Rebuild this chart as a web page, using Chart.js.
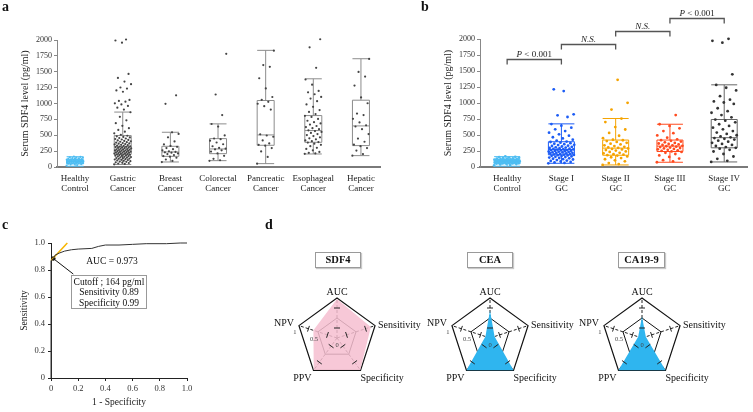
<!DOCTYPE html>
<html>
<head>
<meta charset="utf-8">
<script src="https://cdn.jsdelivr.net/npm/chart.js"></script>
<style>
  body { margin: 0; background: #fff; }
  #page { position: relative; width: 753px; height: 412px; overflow: hidden; font-family: 'Liberation Serif', serif; color: #111; }
  canvas, .lbl, .tbox, .note { position: absolute; }
  .lbl { font-weight: bold; font-size: 14px; line-height: 14px; }
  .tbox { border: 1px solid #9a9a9a; box-shadow: 1px 1px 1px #c8c8c8; font-weight: bold; font-size: 10.5px; line-height: 14px; height: 14px; text-align: center; }
  .note { font-size: 9.5px; text-align: center; }
  #cutoff { left: 71px; top: 275px; width: 74px; height: 31px; border: 1px solid #999; line-height: 10.3px; padding-top: 1px; }
</style>
</head>
<body>
<div id="page">
  <canvas id="chartA" width="385" height="200" style="left:0;top:0;width:385px;height:200px"></canvas>
  <canvas id="chartB" width="373" height="200" style="left:380px;top:0;width:373px;height:200px"></canvas>
  <canvas id="chartC" width="300" height="212" style="left:0;top:200px;width:300px;height:212px"></canvas>
  <canvas id="radar1" width="170" height="120" style="left:252px;top:278px;width:170px;height:120px"></canvas>
  <canvas id="radar2" width="170" height="120" style="left:405px;top:278px;width:170px;height:120px"></canvas>
  <canvas id="radar3" width="170" height="120" style="left:557px;top:278px;width:170px;height:120px"></canvas>

  <div class="lbl" style="left:2px;top:0px">a</div>
  <div class="lbl" style="left:421px;top:0px">b</div>
  <div class="lbl" style="left:2px;top:218px">c</div>
  <div class="lbl" style="left:265px;top:218px">d</div>

  <div class="note" style="left:80px;top:256px;width:64px">AUC = 0.973</div>
  <div class="note" id="cutoff">Cutoff ; 164 pg/ml<br>Sensitivity 0.89<br>Specificity 0.99</div>

  <div class="tbox" style="left:315px;top:252px;width:44px">SDF4</div>
  <div class="tbox" style="left:467px;top:252px;width:44px">CEA</div>
  <div class="tbox" style="left:618px;top:252px;width:45px">CA19-9</div>
</div>

<script>
// ---- panel a : serum SDF4 by cancer type ----
const catA = [['Healthy', 'Control'], ['Gastric', 'Cancer'], ['Breast', 'Cancer'], ['Colorectal', 'Cancer'],
              ['Pancreatic', 'Cancer'], ['Esophageal', 'Cancer'], ['Hepatic', 'Cancer']];

const healthyValues = [24, 31, 40, 46, 49, 53, 57, 58, 61, 64, 66, 69, 70, 73, 75, 77, 79, 80, 83, 85, 86, 89, 90, 92,
  94, 95, 98, 99, 102, 104, 106, 107, 111, 113, 116, 117, 122, 125, 128, 131, 135, 139, 144, 148, 153, 159, 165, 71, 88, 96, 109, 120];
const gastricValues = [42, 48, 55, 63, 68, 74, 81, 86, 92, 97, 104, 109, 113, 118, 124, 128, 133, 139, 142, 147, 152, 156,
  161, 166, 171, 174, 179, 183, 188, 192, 196, 201, 204, 208, 212, 216, 219, 223, 227, 231, 234, 238, 242, 246, 249, 253,
  257, 261, 264, 268, 272, 276, 279, 283, 288, 292, 296, 301, 305, 309, 313, 318, 322, 327, 333, 338, 344, 349, 355, 361,
  367, 372, 378, 385, 391, 398, 404, 411, 418, 426, 433, 441, 449, 457, 466, 474, 483, 492, 508, 531, 556, 584, 612, 648,
  690, 735, 790, 862, 905, 935, 962, 985, 1002, 1028, 1041, 1056, 1185, 1206, 1235, 1252, 1305, 1346, 1402, 1465, 1958, 1992, 2008];
const breastValues = [78, 96, 118, 146, 163, 172, 188, 204, 213, 226, 231, 238, 247, 262, 281, 298, 317, 332, 356, 402, 468, 521, 546, 995, 1128];
const colorectalValues = [98, 106, 128, 176, 214, 243, 262, 279, 288, 301, 327, 358, 386, 414, 438, 449, 498, 636, 677, 818, 1142, 1782];
const pancreaticValues = [53, 158, 246, 298, 336, 349, 372, 418, 476, 496, 515, 905, 958, 996, 1026, 1058, 1102, 1238, 1398, 1578, 1605, 1832];
const esophagealValues = [207, 214, 223, 238, 262, 284, 302, 328, 349, 368, 384, 393, 407, 418, 436, 452, 468, 487, 503, 518,
  536, 552, 566, 577, 596, 612, 628, 646, 668, 687, 706, 728, 757, 788, 806, 834, 868, 897, 948, 986, 1036, 1078, 1104, 1146,
  1176, 1198, 1296, 1378, 1562, 1884, 2012];
const hepaticValues = [178, 204, 258, 298, 328, 352, 398, 447, 518, 596, 638, 657, 702, 758, 818, 842, 1004, 1096, 1282, 1424, 1498, 1702];

// [min, q1, median, q3, max]
const statsA = [[12, 50, 88, 115, 162], [40, 200, 320, 495, 865], [79, 168, 237, 326, 547], [100, 210, 284, 447, 679],
                [53, 342, 505, 1047, 1837], [205, 389, 574, 810, 1389], [179, 337, 647, 1052, 1705]];

// ---- panel b : serum SDF4 by stage ----
const catB = [['Healthy', 'Control'], ['Stage I', 'GC'], ['Stage II', 'GC'], ['Stage III', 'GC'], ['Stage IV', 'GC']];
const stage1Values = [58, 63, 71, 79, 86, 95, 101, 108, 117, 122, 129, 136, 141, 148, 155, 159, 166, 171, 175, 181, 184, 189,
  193, 197, 203, 205, 211, 213, 219, 221, 227, 229, 235, 239, 241, 247, 251, 253, 259, 263, 265, 271, 275, 277, 284, 287, 294,
  297, 304, 308, 316, 320, 328, 333, 342, 347, 357, 363, 373, 380, 391, 397, 413, 427, 447, 465, 489, 511, 537, 561, 589, 615,
  646, 671, 781, 807, 823, 1187, 1213];
const stage2Values = [32, 45, 62, 88, 104, 121, 139, 152, 166, 178, 185, 192, 201, 213, 222, 236, 244, 257, 266, 274, 283, 291,
  298, 306, 315, 327, 338, 352, 364, 377, 392, 405, 418, 426, 451, 488, 532, 586, 624, 702, 756, 898, 1002, 1362];
const stage3Values = [74, 88, 106, 132, 158, 181, 203, 221, 236, 244, 252, 261, 268, 276, 283, 291, 297, 304, 311, 318, 324,
  331, 338, 344, 352, 359, 367, 376, 386, 398, 409, 419, 432, 458, 494, 528, 562, 604, 642, 668, 812];
const stage4Values = [80, 96, 128, 164, 203, 242, 268, 286, 299, 312, 328, 345, 361, 378, 396, 412, 428, 441, 452, 463, 478,
  496, 517, 538, 561, 588, 614, 642, 668, 698, 724, 741, 776, 812, 848, 872, 918, 986, 1008, 1024, 1052, 1106, 1196, 1238,
  1282, 1448, 1942, 1972, 2002];
const statsB = [[12, 50, 88, 115, 162], [58, 190, 274, 395, 674], [32, 184, 295, 421, 758], [74, 242, 326, 421, 668], [79, 300, 458, 742, 1284]];

const bracketFrom = [0, 1, 2, 3];
const bracketTo = [1, 2, 3, 4];
const bracketLevel = [1690, 1925, 2120, 2330];
const bracketText = ['P < 0.001', 'N.S.', 'N.S.', 'P < 0.001'];

// ---- panel c : ROC ----
const rocFpr = [0, 0, 0.015, 0.03, 0.06, 0.1, 0.15, 0.2, 0.3, 0.35, 0.4, 0.5, 0.6, 0.7, 0.85, 0.95, 1.0];
const rocTpr = [0, 0.87, 0.88, 0.91, 0.925, 0.94, 0.95, 0.955, 0.96, 0.975, 0.985, 0.985, 0.99, 0.995, 0.995, 1.0, 1.0];
const tangentFpr = [0, 0.12];
const tangentTpr = [0.87, 1.0];
const leaderFpr = [0.017, 0.164];
const leaderTpr = [0.885, 0.77];

// ---- panel d : radar ----
const radarLabels = ['AUC', 'Sensitivity', 'Specificity', 'PPV', 'NPV'];
const sdf4Radar = [0.973, 0.89, 0.99, 0.99, 0.62];
const ceaRadar = [0.69, 0.12, 1.0, 1.0, 0.12];
const ca199Radar = [0.54, 0.1, 1.0, 1.0, 0.1];
const radarTicks = [1, 0.5, 0];
const spokeMarks = [0.25, 0.75];

const FONT = "'Liberation Serif', serif";

// jitter inside a category (layout only)
const jit = k => ((k * 0.618034) % 1) - 0.5;

// box plot drawn from stats through the chart scales
const boxPlugin = {
    id: 'boxes',
    beforeDatasetsDraw(chart, args, opts) {
        const { ctx, scales: { x, y } } = chart;
        const p = v => y.getPixelForValue(v);
        opts.stats.forEach((s, i) => {
            const cx = x.getPixelForValue(i), hw = opts.halfWidth;
            ctx.save();
            ctx.strokeStyle = opts.colors[i];
            ctx.lineWidth = 1;
            ctx.beginPath();
            ctx.rect(cx - hw, p(s[3]), 2 * hw, p(s[1]) - p(s[3]));
            ctx.moveTo(cx - hw, p(s[2])); ctx.lineTo(cx + hw, p(s[2]));
            ctx.moveTo(cx, p(s[3])); ctx.lineTo(cx, p(s[4]));
            ctx.moveTo(cx, p(s[1])); ctx.lineTo(cx, p(s[0]));
            ctx.moveTo(cx - hw, p(s[4])); ctx.lineTo(cx + hw, p(s[4]));
            ctx.moveTo(cx - hw, p(s[0])); ctx.lineTo(cx + hw, p(s[0]));
            ctx.stroke();
            ctx.restore();
        });
    }
};

const bracketPlugin = {
    id: 'brackets',
    afterDraw(chart) {
        const { ctx, scales: { x, y } } = chart;
        ctx.save();
        ctx.strokeStyle = '#555';
        ctx.lineWidth = 1.3;
        ctx.fillStyle = '#222';
        ctx.textBaseline = 'alphabetic';
        bracketLevel.forEach((lv, i) => {
            const x1 = x.getPixelForValue(bracketFrom[i]), x2 = x.getPixelForValue(bracketTo[i]);
            const yy = Math.round(y.getPixelForValue(lv)) + 0.5;
            ctx.beginPath();
            ctx.moveTo(x1, yy + 5); ctx.lineTo(x1, yy); ctx.lineTo(x2, yy); ctx.lineTo(x2, yy + 5);
            ctx.stroke();
            const mid = (x1 + x2) / 2, txt = bracketText[i];
            if (txt.startsWith('P')) {
                ctx.font = 'italic 9px ' + FONT;
                const w1 = ctx.measureText('P').width;
                ctx.font = '9px ' + FONT;
                const rest = txt.slice(1), w2 = ctx.measureText(rest).width;
                const x0 = mid - (w1 + w2) / 2;
                ctx.textAlign = 'left';
                ctx.font = 'italic 9px ' + FONT;
                ctx.fillText('P', x0, yy - 3);
                ctx.font = '9px ' + FONT;
                ctx.fillText(rest, x0 + w1, yy - 3);
            } else {
                ctx.font = 'italic 9px ' + FONT;
                ctx.textAlign = 'center';
                ctx.fillText(txt, mid, yy - 3);
            }
        });
        ctx.restore();
    }
};

const jitterSets = (groups, colors, spread, radius) => groups.map((vals, i) => ({
    data: vals.map((v, k) => ({ x: i + jit(k) * spread, y: v })),
    backgroundColor: colors[i],
    borderWidth: 0,
    pointRadius: radius,
    clip: false
}));

const boxChart = (id, cats, groups, stats, pointColors, boxColors, opt) => new Chart(document.getElementById(id), {
    type: 'scatter',
    data: { datasets: jitterSets(groups, pointColors, opt.spread, opt.radius) },
    options: {
        responsive: false,
        animation: false,
        events: [],
        layout: { padding: { left: opt.padLeft, right: opt.padRight, top: opt.padTop, bottom: 0 } },
        plugins: {
            legend: { display: false },
            tooltip: { enabled: false },
            boxes: { stats: stats, colors: boxColors, halfWidth: opt.halfWidth }
        },
        scales: {
            x: {
                type: 'linear', min: opt.xmin, max: opt.xmax,
                afterBuildTicks: s => { s.ticks = cats.map((c, i) => ({ value: i })); },
                ticks: { callback: v => cats[v], font: { family: FONT, size: 9, lineHeight: 1.1 }, color: '#222', padding: 7, maxRotation: 0, autoSkip: false },
                grid: { display: false, drawTicks: false },
                border: { color: '#7a7a7a', width: 2 },
                afterFit: s => { s.height = 33; }
            },
            y: {
                min: 0, max: 2000,
                ticks: { stepSize: 250, callback: v => String(v), font: { family: FONT, size: 8 }, color: '#333', padding: 2 },
                grid: { drawOnChartArea: false, tickLength: 3, color: '#888' },
                border: { color: '#888' },
                title: { display: true, text: 'Serum SDF4 level (pg/ml)', font: { family: FONT, size: 10 }, color: '#222', padding: { top: 4, bottom: 0 } },
                afterFit: s => { s.width = 42; }
            }
        }
    },
    plugins: opt.extra
});

// panel a
boxChart('chartA', catA,
    [healthyValues, gastricValues, breastValues, colorectalValues, pancreaticValues, esophagealValues, hepaticValues],
    statsA,
    ['#4dbdf2', '#444', '#444', '#444', '#444', '#444', '#444'],
    ['#4dbdf2', '#8c8c8c', '#8c8c8c', '#8c8c8c', '#8c8c8c', '#8c8c8c', '#8c8c8c'],
    { spread: 0.36, radius: 1.1, halfWidth: 8.5, xmin: -0.38, xmax: 6.4, padLeft: 15, padRight: 5, padTop: 40, extra: [boxPlugin] });

// panel b
boxChart('chartB', catB,
    [healthyValues, stage1Values, stage2Values, stage3Values, stage4Values],
    statsB,
    ['#4dbdf2', '#1c5cf5', '#f5a300', '#ff4b1f', '#333'],
    ['#4dbdf2', '#1c5cf5', '#f5a300', '#ff4b1f', '#666'],
    { spread: 0.48, radius: 1.4, halfWidth: 13, xmin: -0.5, xmax: 4.42, padLeft: 58, padRight: 6, padTop: 39, extra: [boxPlugin, bracketPlugin] });

// panel c
const pts = (xs, ys) => xs.map((x, i) => ({ x: x, y: ys[i] }));
const fmt = v => Math.abs(v) < 1e-9 ? '0' : v.toFixed(1);
new Chart(document.getElementById('chartC'), {
    type: 'scatter',
    data: {
        datasets: [
            { data: pts(rocFpr, rocTpr), showLine: true, borderColor: '#333', borderWidth: 1, pointRadius: 0, clip: false },
            { data: pts(tangentFpr, tangentTpr), showLine: true, borderColor: '#f7b500', borderWidth: 1.5, pointRadius: 0, clip: false },
            { data: pts(leaderFpr, leaderTpr), showLine: true, borderColor: '#111', borderWidth: 1, pointRadius: [1.8, 0], pointBackgroundColor: '#111', clip: false }
        ]
    },
    options: {
        responsive: false,
        animation: false,
        events: [],
        layout: { padding: { left: 15, right: 113, top: 43, bottom: 0 } },
        plugins: { legend: { display: false }, tooltip: { enabled: false } },
        scales: {
            x: {
                type: 'linear', min: 0, max: 1,
                ticks: { stepSize: 0.2, callback: fmt, font: { family: FONT, size: 8.5 }, color: '#333', padding: 3 },
                grid: { drawOnChartArea: false, tickLength: 3, color: '#222' },
                border: { color: '#222' },
                title: { display: true, text: '1 - Specificity', font: { family: FONT, size: 9.5 }, color: '#222' },
                afterFit: s => { s.height = 34; }
            },
            y: {
                min: 0, max: 1,
                ticks: { stepSize: 0.2, callback: fmt, font: { family: FONT, size: 8.5 }, color: '#333', padding: 3 },
                grid: { drawOnChartArea: false, tickLength: 3, color: '#222' },
                border: { color: '#222' },
                title: { display: true, text: 'Sensitivity', font: { family: FONT, size: 9.5 }, color: '#222', padding: { top: 4, bottom: 0 } },
                afterFit: s => { s.width = 36; }
            }
        }
    }
});

// panel d
const labelAlign = ['center', 'left', 'left', 'right', 'right'];
const labelDx = [0, 3, 0, -2, -5];
const labelDy = [-6, 0, 8, 8, -2];

const radarDeco = {
    id: 'radarDeco',
    afterDraw(chart) {
        const s = chart.scales.r, ctx = chart.ctx;
        ctx.save();
        ctx.strokeStyle = '#222';
        ctx.lineWidth = 1;
        radarLabels.forEach((lab, i) => {
            const a = s.getIndexAngle(i) - Math.PI / 2;
            const dx = Math.cos(a), dy = Math.sin(a);
            spokeMarks.forEach(v => {
                const p = s.getPointPositionForValue(i, v);
                ctx.beginPath();
                ctx.moveTo(p.x - dy * 3, p.y + dx * 3);
                ctx.lineTo(p.x + dy * 3, p.y - dx * 3);
                ctx.stroke();
            });
            const q = s.getPointPositionForValue(i, 1);
            ctx.fillStyle = '#111';
            ctx.font = '10px ' + FONT;
            ctx.textAlign = labelAlign[i];
            ctx.textBaseline = 'middle';
            ctx.fillText(lab, q.x + labelDx[i], q.y + labelDy[i]);
        });
        ctx.font = '6.5px ' + FONT;
        ctx.fillStyle = '#444';
        ctx.textAlign = 'center';
        radarTicks.forEach(v => {
            const p = s.getPointPositionForValue(4, v);
            ctx.fillText(String(v), p.x - (v > 0 ? 4 : 0), p.y + 7);
        });
        ctx.restore();
    }
};

const radar = (id, values, fill) => new Chart(document.getElementById(id), {
    type: 'radar',
    data: { labels: radarLabels, datasets: [{ data: values, backgroundColor: fill, borderWidth: 0, pointRadius: 0, fill: true }] },
    options: {
        responsive: false,
        animation: false,
        events: [],
        layout: { padding: { left: 45, right: 45, top: 20, bottom: 20 } },
        plugins: { legend: { display: false }, tooltip: { enabled: false } },
        scales: {
            r: {
                min: 0, max: 1, z: 1,
                ticks: { display: false, stepSize: 0.5 },
                pointLabels: { display: false },
                grid: { color: '#111', lineWidth: c => c.tick && c.tick.value === 1 ? 1.2 : 1 },
                angleLines: { color: '#222', borderDash: [3, 2], lineWidth: 1 }
            }
        }
    },
    plugins: [radarDeco]
});

radar('radar1', sdf4Radar, 'rgba(246, 190, 208, 0.85)');
radar('radar2', ceaRadar, '#2fb5ef');
radar('radar3', ca199Radar, '#2fb5ef');
</script>
</body>
</html>
